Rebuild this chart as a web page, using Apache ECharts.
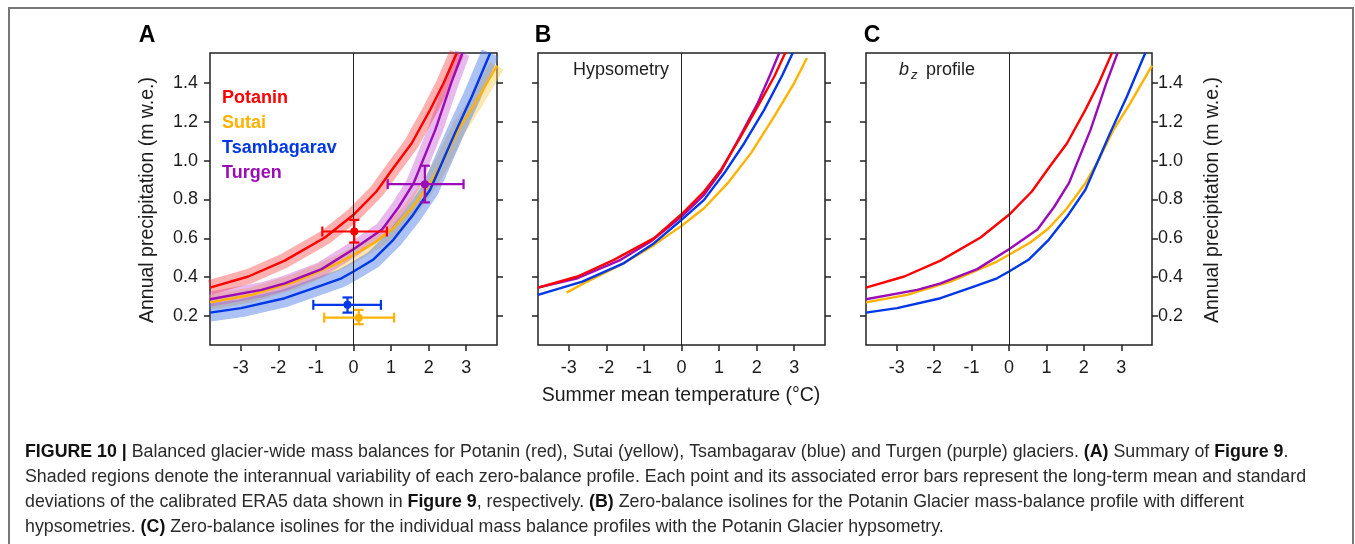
<!DOCTYPE html>
<html><head><meta charset="utf-8">
<script src="https://cdn.jsdelivr.net/npm/echarts@6.0.0/dist/echarts.min.js"></script>
<style>html,body{margin:0;padding:0;background:#fff;}#chart{width:1355px;height:544px;}</style>
</head><body><div id="chart"></div>
<script>
// ---------- tick labels ----------
const xTicks = [-3, -2, -1, 0, 1, 2, 3];
const yTicks = [0.2, 0.4, 0.6, 0.8, 1.0, 1.2, 1.4];
const glacierNames = ['Potanin', 'Sutai', 'Tsambagarav', 'Turgen'];

// ---------- Panel A / C : zero-balance profiles [temp, precip] ----------
const potanin = [[-3.82,0.346],[-2.8,0.403],[-1.83,0.485],[-0.76,0.604],[0,0.721],[0.61,0.841],[1.06,0.962],[1.55,1.09],[2.04,1.262],[2.4,1.4],[2.75,1.555]];
const sutai = [[-3.82,0.27],[-2.72,0.308],[-1.56,0.377],[-0.32,0.48],[0,0.515],[0.57,0.578],[1.06,0.652],[1.55,0.755],[2.04,0.884],[2.4,1.005],[2.79,1.159],[3.24,1.297],[3.82,1.49]];
const tsambagarav = [[-3.82,0.217],[-2.99,0.24],[-1.83,0.291],[-0.94,0.351],[-0.32,0.394],[0,0.429],[0.52,0.489],[1.06,0.592],[1.55,0.712],[2.04,0.85],[2.35,0.987],[2.7,1.142],[3.15,1.331],[3.64,1.555]];
const turgen = [[-3.82,0.286],[-2.45,0.334],[-1.83,0.368],[-0.85,0.441],[0,0.544],[0.76,0.645],[1.2,0.76],[1.6,0.884],[2.18,1.16],[2.6,1.4],[2.9,1.555]];

// ---------- Panel B : hypsometry ----------
const hypPotanin = [[-3.82,0.346],[-2.77,0.403],[-1.8,0.489],[-0.73,0.601],[0,0.724],[0.6,0.841],[1.05,0.953],[1.58,1.125],[2.03,1.28],[2.47,1.434],[2.76,1.555]];
const hypSutai = [[-3.06,0.32],[-2.51,0.377],[-1.53,0.472],[-0.73,0.566],[0,0.664],[0.6,0.755],[1.23,0.884],[1.85,1.039],[2.47,1.228],[3.0,1.4],[3.34,1.529]];
const hypTsambagarav = [[-3.82,0.308],[-2.64,0.377],[-1.53,0.472],[-0.73,0.575],[0,0.695],[0.6,0.798],[1.14,0.936],[1.67,1.09],[2.2,1.262],[2.69,1.443],[2.96,1.555]];
const hypTurgen = [[-3.82,0.346],[-2.77,0.394],[-1.62,0.489],[-0.82,0.583],[0,0.712],[0.6,0.824],[1.05,0.944],[1.58,1.133],[2.03,1.297],[2.38,1.452],[2.6,1.555]];

// ---------- Panel A : ERA5 means with std. dev. [x, y, xLo, xHi, yLo, yHi] ----------
const errPotanin = [0.02, 0.635, -0.83, 0.89, 0.578, 0.695];
const errSutai = [0.14, 0.191, -0.78, 1.08, 0.157, 0.231];
const errTsambagarav = [-0.16, 0.257, -1.07, 0.73, 0.217, 0.295];
const errTurgen = [1.9, 0.879, 0.91, 2.93, 0.785, 0.974];

// ---------- styling ----------
const FONT = 'Liberation Sans, Arial, Helvetica, sans-serif';
const INK = '#1c1c1c';
const C = { Potanin: '#ff0000', Sutai: '#ffb300', Tsambagarav: '#0037e6', Turgen: '#9b0cb8' };
const BAND = { Potanin: 'rgba(255,40,40,0.36)', Sutai: 'rgba(255,205,80,0.45)', Tsambagarav: 'rgba(70,120,230,0.45)', Turgen: 'rgba(195,70,205,0.38)' };
const XMIN = -3.82, XMAX = 3.82, YMIN = 0.05, YMAX = 1.555;

const grids = [
  { left: 210, top: 53, width: 287, height: 292 },
  { left: 538, top: 53, width: 287, height: 292 },
  { left: 866, top: 53, width: 286, height: 292 }
].map(g => Object.assign(g, { show: true, borderColor: '#222', borderWidth: 1.5, backgroundColor: 'transparent' }));

const xAxes = grids.map((g, i) => ({
  type: 'value', gridIndex: i, min: XMIN, max: XMAX, position: 'bottom',
  axisLine: { show: false, onZero: false }, splitLine: { show: false },
  axisTick: { show: true, customValues: xTicks, length: 6, lineStyle: { color: '#222', width: 1.5 } },
  axisLabel: { customValues: xTicks, fontSize: 18, fontFamily: FONT, color: INK, margin: 14 }
}));

const yAxes = [];
grids.forEach((g, i) => {
  ['left', 'right'].forEach(pos => {
    const showLab = (i === 0 && pos === 'left') || (i === 2 && pos === 'right');
    yAxes.push({
      type: 'value', gridIndex: i, position: pos, min: YMIN, max: YMAX,
      axisLine: { show: false, onZero: false }, splitLine: { show: false },
      axisTick: { show: true, customValues: yTicks, length: 6, lineStyle: { color: '#222', width: 1.5 } },
      axisLabel: { show: showLab, customValues: yTicks, fontSize: 18, fontFamily: FONT, color: INK,
                   margin: pos === 'left' ? 12 : 6, formatter: v => v.toFixed(1) }
    });
  });
});

function line(data, color, gi, width, z) {
  return { type: 'line', xAxisIndex: gi, yAxisIndex: gi * 2, data: data, showSymbol: false, symbol: 'none',
           clip: true, z: z, silent: true, animation: false,
           lineStyle: { color: color, width: width, join: 'round' } };
}
function zeroLine(gi) {
  return { type: 'line', xAxisIndex: gi, yAxisIndex: gi * 2, data: [], z: 5, silent: true, animation: false,
           markLine: { silent: true, symbol: ['none', 'none'], label: { show: false }, animation: false,
                       lineStyle: { color: '#222', width: 1, type: 'solid' }, data: [{ xAxis: 0 }] } };
}
function errBar(rec, color) {
  return {
    type: 'custom', xAxisIndex: 0, yAxisIndex: 0, z: 8, silent: true, animation: false,
    data: [rec], encode: { x: 0, y: 1 },
    renderItem: function (params, api) {
      const x = api.value(0), y = api.value(1);
      const c = api.coord([x, y]);
      const l = api.coord([api.value(2), y]), r = api.coord([api.value(3), y]);
      const b = api.coord([x, api.value(4)]), t = api.coord([x, api.value(5)]);
      const cap = 5, st = { stroke: color, lineWidth: 2.2 };
      const seg = (x1, y1, x2, y2) => ({ type: 'line', shape: { x1, y1, x2, y2 }, style: st });
      return { type: 'group', children: [
        seg(l[0], l[1], r[0], r[1]), seg(l[0], l[1] - cap, l[0], l[1] + cap), seg(r[0], r[1] - cap, r[0], r[1] + cap),
        seg(b[0], b[1], t[0], t[1]), seg(b[0] - cap, b[1], b[0] + cap, b[1]), seg(t[0] - cap, t[1], t[0] + cap, t[1]),
        { type: 'circle', shape: { cx: c[0], cy: c[1], r: 4 }, style: { fill: color } }
      ] };
    }
  };
}

const profiles = { Potanin: potanin, Sutai: sutai, Tsambagarav: tsambagarav, Turgen: turgen };
const hyps = { Potanin: hypPotanin, Sutai: hypSutai, Tsambagarav: hypTsambagarav, Turgen: hypTurgen };
const errs = { Potanin: errPotanin, Sutai: errSutai, Tsambagarav: errTsambagarav, Turgen: errTurgen };
const drawOrder = ['Sutai', 'Tsambagarav', 'Turgen', 'Potanin'];

const series = [];
// Panel A bands
drawOrder.forEach(n => series.push(line(profiles[n], BAND[n], 0, n === 'Tsambagarav' ? 18 : 15, 1)));
drawOrder.forEach(n => series.push(line(profiles[n], C[n], 0, 2.4, 3)));
series.push(zeroLine(0));
drawOrder.forEach(n => series.push(errBar(errs[n], C[n])));
// Panel B
['Sutai', 'Tsambagarav', 'Turgen', 'Potanin'].forEach(n => series.push(line(hyps[n], C[n], 1, 2.4, 3)));
series.push(zeroLine(1));
// Panel C
drawOrder.forEach(n => series.push(line(profiles[n], C[n], 2, 2.4, 3)));
series.push(zeroLine(2));

// ---------- texts ----------
const txt = (x, y, text, opt) => Object.assign({ type: 'text', x: x, y: y, silent: true,
  style: Object.assign({ text: text, fontFamily: FONT, fontSize: 18, fill: INK, textAlign: 'left', textVerticalAlign: 'middle' }, opt || {}) });
const graphic = [
  { type: 'rect', silent: true, shape: { x: 9, y: 8, width: 1344, height: 560 }, style: { fill: 'none', stroke: '#777', lineWidth: 2 } },
  txt(147, 36, 'A', { fontSize: 23, fontWeight: 'bold', textAlign: 'center', fill: '#000' }),
  txt(543, 36, 'B', { fontSize: 23, fontWeight: 'bold', textAlign: 'center', fill: '#000' }),
  txt(872, 36, 'C', { fontSize: 23, fontWeight: 'bold', textAlign: 'center', fill: '#000' }),
  txt(573, 70, 'Hypsometry', { fontSize: 18 }),
  txt(899, 70, 'b', { fontSize: 18, fontStyle: 'italic' }),
  txt(911, 75, 'z', { fontSize: 13, fontStyle: 'italic' }),
  txt(926, 70, 'profile', { fontSize: 18 }),
  Object.assign(txt(148, 200, 'Annual precipitation (m w.e.)', { fontSize: 19.5, textAlign: 'center' }), { rotation: Math.PI / 2 }),
  Object.assign(txt(1213, 200, 'Annual precipitation (m w.e.)', { fontSize: 19.5, textAlign: 'center' }), { rotation: Math.PI / 2 }),
  txt(681, 396, 'Summer mean temperature (°C)', { fontSize: 19.5, textAlign: 'center' })
];
glacierNames.forEach((n, i) => graphic.push(txt(222, 98 + i * 25, n, { fontSize: 18, fontWeight: 'bold', fill: C[n] })));

const captionLines = [
  '{b|FIGURE 10 |} Balanced glacier-wide mass balances for Potanin (red), Sutai (yellow), Tsambagarav (blue) and Turgen (purple) glaciers. {b|(A)} Summary of {b|Figure 9}.',
  'Shaded regions denote the interannual variability of each zero-balance profile. Each point and its associated error bars represent the long-term mean and standard',
  'deviations of the calibrated ERA5 data shown in {b|Figure 9}, respectively. {b|(B)} Zero-balance isolines for the Potanin Glacier mass-balance profile with different',
  'hypsometries. {b|(C)} Zero-balance isolines for the individual mass balance profiles with the Potanin Glacier hypsometry.'
];
captionLines.forEach((s, i) => graphic.push(txt(25, 452 + i * 25, s, {
  fontSize: 17.8, fill: '#2a2a2a',
  rich: { b: { fontWeight: 'bold', fontSize: 17.8, fontFamily: FONT, fill: '#111' } }
})));

const chart = echarts.init(document.getElementById('chart'), null, { renderer: 'canvas' });
chart.setOption({
  animation: false, backgroundColor: '#fff',
  grid: grids, xAxis: xAxes, yAxis: yAxes, series: series, graphic: { elements: graphic }
});
</script></body></html>
